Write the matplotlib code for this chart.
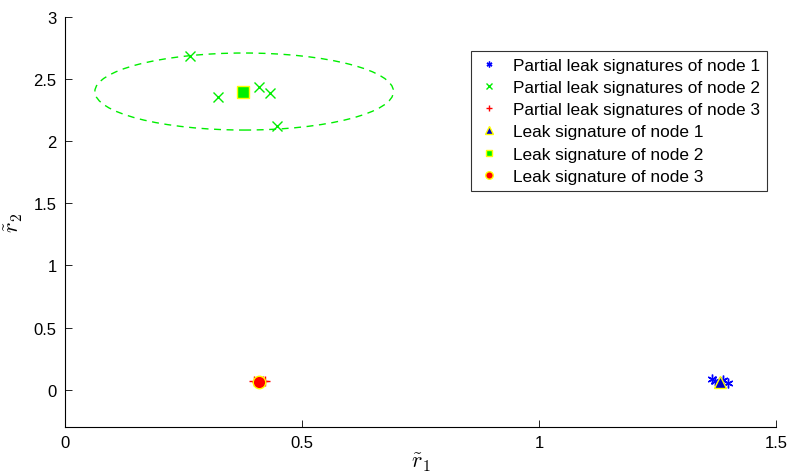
import matplotlib
matplotlib.use("Agg")
import matplotlib.pyplot as plt
from matplotlib.patches import Ellipse

plt.rcParams['font.family'] = ['Liberation Sans', 'DejaVu Sans']
plt.rcParams['mathtext.fontset'] = 'cm'

# Partial leak signatures
n1_x = [1.365, 1.372, 1.388, 1.398, 1.384]
n1_y = [0.085, 0.072, 0.078, 0.058, 0.062]
n2_x = [0.264, 0.323, 0.409, 0.432, 0.447]
n2_y = [2.69, 2.36, 2.44, 2.39, 2.12]
n3_x = [0.398, 0.410, 0.418, 0.404, 0.422]
n3_y = [0.070, 0.058, 0.072, 0.066, 0.068]

# Leak signatures
sig_x = [1.382, 0.376, 0.409]
sig_y = [0.065, 2.40, 0.065]

# Confidence circle around node 2 signature
circ_center = (0.378, 2.40)
circ_width = 0.63
circ_height = 0.62

fig = plt.figure(figsize=(7.9, 4.77), dpi=100)
ax = fig.add_axes([0.0823, 0.1027, 0.9, 0.8596])

ax.plot(n1_x, n1_y, linestyle='none', marker=(6, 2, 0), color='blue', markersize=7, mew=1,
        label='Partial leak signatures of node 1')
ax.plot(n2_x, n2_y, linestyle='none', marker='x', color='#00ee00', markersize=7, mew=1,
        label='Partial leak signatures of node 2')
ax.plot(n3_x, n3_y, linestyle='none', marker='+', color='red', markersize=7, mew=1,
        label='Partial leak signatures of node 3')
ax.plot(sig_x[0], sig_y[0], linestyle='none', marker='^', markerfacecolor='#0000cc',
        markeredgecolor='yellow', markersize=9, mew=1, label='Leak signature of node 1')
ax.plot(sig_x[1], sig_y[1], linestyle='none', marker='s', markerfacecolor='#00ee00',
        markeredgecolor='yellow', markersize=8, mew=1, label='Leak signature of node 2')
ax.plot(sig_x[2], sig_y[2], linestyle='none', marker='o', markerfacecolor='red',
        markeredgecolor='yellow', markersize=9, mew=1, label='Leak signature of node 3')

ell = Ellipse(circ_center, circ_width, circ_height, fill=False, edgecolor='#00ee00',
              linestyle=(0, (5, 4)), linewidth=1)
ax.add_patch(ell)

ax.set_xlim(0, 1.5)
ax.set_ylim(-0.3, 3)
ax.set_xticks([0, 0.5, 1, 1.5])
ax.set_xticklabels(['0', '0.5', '1', '1.5'])
ax.set_yticks([0, 0.5, 1, 1.5, 2, 2.5, 3])
ax.set_yticklabels(['0', '0.5', '1', '1.5', '2', '2.5', '3'])
ax.tick_params(direction='in', length=5, width=0.6, labelsize=12, pad=6)
for s in ['top', 'right']:
    ax.spines[s].set_visible(False)
for s in ['left', 'bottom']:
    ax.spines[s].set_linewidth(0.8)

ax.set_xlabel(r'$\tilde{r}_1$', fontsize=16, labelpad=0)
ax.set_ylabel(r'$\tilde{r}_2$', fontsize=16, labelpad=6)

leg = ax.legend(loc='upper right', bbox_to_anchor=(767 / 790, 1 - 52 / 477),
                bbox_transform=fig.transFigure, borderaxespad=0,
                fontsize=12.4, frameon=True, fancybox=False, edgecolor='black',
                handlelength=1.3, handletextpad=0.75, labelspacing=0.42, borderpad=0.38,
                markerscale=0.6)
leg.get_frame().set_linewidth(0.8)

fig.savefig('out.png', dpi=100)
